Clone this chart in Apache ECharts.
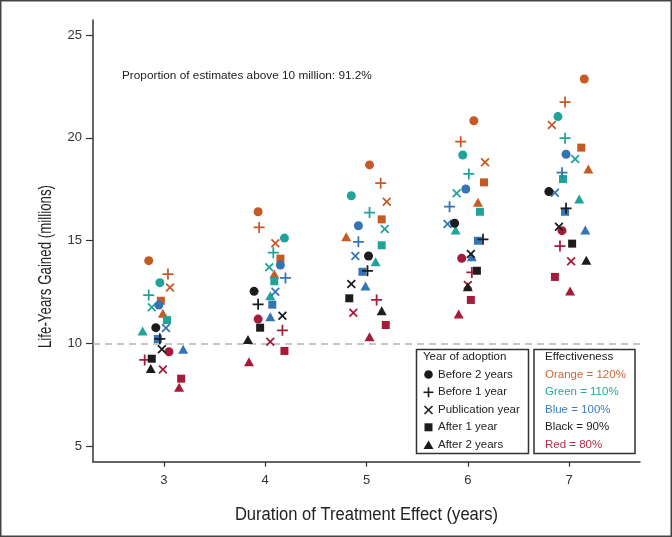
<!DOCTYPE html>
<html>
<head>
<meta charset="utf-8">
<title>Life-Years Gained</title>
<script src="https://cdn.jsdelivr.net/npm/echarts@6/dist/echarts.min.js"></script>
<style>
body{margin:0;background:#fff;}
#main{width:672px;height:537px;}
</style>
</head>
<body>
<div id="main"></div>
<script>
// durations on the x axis (years) and y ticks
var durations = [3, 4, 5, 6, 7];
var yTicks = [5, 10, 15, 20, 25];
var adoption = ['Before 2 years', 'Before 1 year', 'Publication year', 'After 1 year', 'After 2 years'];
var effectLabels = ['Orange = 120%', 'Green = 110%', 'Blue = 100%', 'Black = 90%', 'Red = 80%'];

// rows: adoption year (circle, plus, x, square, triangle); cols: duration 3..7
// X = jittered horizontal position, Y = life-years gained (millions)
var orangeX = [[2.85,3.93,5.03,6.06,7.15],[3.04,3.94,5.14,5.93,6.96],[3.06,4.10,5.20,6.17,6.83],[2.97,4.15,5.15,6.16,7.12],[2.99,4.09,4.80,6.10,7.19]];
var orangeY = [[14.02,16.40,18.68,20.83,22.86],[13.37,15.64,17.79,19.81,21.74],[12.72,14.87,16.89,18.81,20.62],[12.07,14.12,16.03,17.83,19.52],[11.46,13.37,15.19,16.86,18.48]];
var tealX = [[2.96,4.19,4.85,5.95,6.89],[2.85,4.08,5.03,6.01,6.96],[2.88,4.04,5.18,5.89,7.06],[3.03,4.09,5.15,6.12,6.94],[2.79,4.05,5.09,5.88,7.10]];
var tealY = [[12.95,15.12,17.18,19.16,21.03],[12.35,14.41,16.36,18.24,19.98],[11.75,13.70,15.56,17.30,18.97],[11.13,13.02,14.77,16.40,17.99],[10.60,12.32,13.97,15.51,17.02]];
var blueX = [[2.95,4.15,4.92,5.98,6.97],[3.00,4.20,4.92,5.82,6.93],[3.02,4.10,4.89,5.80,6.86],[2.94,4.07,4.96,6.10,6.96],[3.19,4.05,4.99,6.04,7.16]];
var blueY = [[11.86,13.81,15.72,17.51,19.20],[null,13.18,14.94,16.65,18.30],[10.74,12.51,14.25,15.81,17.33],[10.21,11.88,13.48,14.99,16.40],[9.71,11.29,12.79,14.21,15.51]];
var blackX = [[2.92,3.89,5.02,5.87,6.80],[2.96,3.93,5.01,6.15,6.97],[2.98,4.17,4.85,6.03,6.90],[2.88,3.95,4.83,6.09,7.03],[2.87,3.83,5.15,6.00,7.17]];
var blackY = [[10.76,12.53,14.25,15.84,17.38],[10.22,11.90,13.53,15.06,16.57],[9.71,11.34,12.89,14.35,15.67],[9.25,10.76,12.19,13.53,14.85],[8.78,10.19,11.59,12.75,14.04]];
var redX = [[3.05,3.93,5.00,5.94,6.93],[2.81,4.17,5.10,6.04,6.91],[2.99,4.05,4.87,6.00,7.02],[3.17,4.19,5.19,6.03,6.86],[3.15,3.84,5.03,5.91,7.01]];
var redY = [[9.59,11.18,null,14.14,15.48],[9.19,10.63,12.11,13.45,14.73],[8.73,10.08,11.49,12.84,13.99],[8.28,9.63,10.89,12.11,13.23],[7.86,9.10,10.32,11.43,12.55]];

var PLUS = 'path://M4.2,0h1.6v4.2h4.2v1.6h-4.2v4.2h-1.6v-4.2h-4.2v-1.6h4.2z';
var shapes = ['circle', PLUS, PLUS, 'rect', 'triangle'];
var rotations = [0, 0, 45, 0, 0];
var sizes = [9, 11, 11, 8, [10, 9]];

var groups = [
  {x: orangeX, y: orangeY, color: '#c55a24'},
  {x: tealX, y: tealY, color: '#1fa39a'},
  {x: blueX, y: blueY, color: '#3474b5'},
  {x: redX, y: redY, color: '#a61b3a'},
  {x: blackX, y: blackY, color: '#1c1c1c'}
];

var series = [];
groups.forEach(function (g) {
  for (var a = 0; a < 5; a++) {
    var pts = [];
    for (var j = 0; j < durations.length; j++) {
      if (g.y[a][j] != null) pts.push([g.x[a][j], g.y[a][j]]);
    }
    series.push({
      type: 'scatter',
      name: adoption[a],
      data: pts,
      symbol: shapes[a],
      symbolRotate: rotations[a],
      symbolSize: sizes[a],
      clip: false,
      silent: true,
      itemStyle: {color: g.color, opacity: 1},
      z: 3
    });
  }
});

// dashed reference line at 10 million
series[0].markLine = {
  silent: true,
  symbol: 'none',
  label: {show: false},
  lineStyle: {color: '#b4b4b4', type: [7, 5], width: 1.5},
  data: [{yAxis: 10}],
  z: 1
};

var txtFont = '"Liberation Sans", Arial, sans-serif';
var legendColors = ['#c9683a', '#26a89d', '#3b7ec2', '#222222', '#b02d47'];
var rowY = [374.5, 392.3, 410, 427.3, 445];

var graphics = [
  {type: 'rect', shape: {x: 0.75, y: 0.75, width: 670.5, height: 535.5}, style: {fill: 'none', stroke: '#444', lineWidth: 1.5}, silent: true},
  {type: 'text', x: 122, y: 76, style: {text: 'Proportion of estimates above 10 million: 91.2%', fontSize: 11.8, fontFamily: txtFont, fill: '#222', verticalAlign: 'middle'}},
  // axis titles (condensed look via horizontal scaling)
  {type: 'text', x: 46.5, y: 266.5, rotation: Math.PI / 2, scaleX: 0.74, style: {text: 'Life-Years Gained (millions)', fontSize: 18, fontFamily: txtFont, fill: '#222', align: 'center', verticalAlign: 'middle'}},
  {type: 'text', x: 366.5, y: 515, scaleX: 0.92, style: {text: 'Duration of Treatment Effect (years)', fontSize: 18, fontFamily: txtFont, fill: '#222', align: 'center', verticalAlign: 'middle'}},
  {type: 'rect', shape: {x: 416.5, y: 349.5, width: 112, height: 104}, style: {fill: '#fff', stroke: '#333', lineWidth: 1.5}, z: 10},
  {type: 'rect', shape: {x: 534, y: 349.5, width: 101, height: 104}, style: {fill: '#fff', stroke: '#333', lineWidth: 1.5}, z: 10},
  {type: 'text', x: 423, y: 357, style: {text: 'Year of adoption', fontSize: 11.5, fontFamily: txtFont, fill: '#222', verticalAlign: 'middle'}, z: 11},
  {type: 'text', x: 545, y: 357, style: {text: 'Effectiveness', fontSize: 11.5, fontFamily: txtFont, fill: '#222', verticalAlign: 'middle'}, z: 11}
];
var sx = 428.5;
var k = '#1c1c1c';
graphics.push({type: 'circle', shape: {cx: sx, cy: rowY[0], r: 4.3}, style: {fill: k}, z: 11});
graphics.push({type: 'line', shape: {x1: sx - 5, y1: rowY[1], x2: sx + 5, y2: rowY[1]}, style: {stroke: k, lineWidth: 1.6}, z: 11});
graphics.push({type: 'line', shape: {x1: sx, y1: rowY[1] - 5, x2: sx, y2: rowY[1] + 5}, style: {stroke: k, lineWidth: 1.6}, z: 11});
graphics.push({type: 'line', shape: {x1: sx - 4, y1: rowY[2] - 4, x2: sx + 4, y2: rowY[2] + 4}, style: {stroke: k, lineWidth: 1.6}, z: 11});
graphics.push({type: 'line', shape: {x1: sx - 4, y1: rowY[2] + 4, x2: sx + 4, y2: rowY[2] - 4}, style: {stroke: k, lineWidth: 1.6}, z: 11});
graphics.push({type: 'rect', shape: {x: sx - 4, y: rowY[3] - 4, width: 8, height: 8}, style: {fill: k}, z: 11});
graphics.push({type: 'polygon', shape: {points: [[sx - 5, rowY[4] + 4], [sx + 5, rowY[4] + 4], [sx, rowY[4] - 4.5]]}, style: {fill: k}, z: 11});
for (var i = 0; i < 5; i++) {
  graphics.push({type: 'text', x: 438, y: rowY[i], style: {text: adoption[i], fontSize: 11.5, fontFamily: txtFont, fill: '#222', verticalAlign: 'middle'}, z: 11});
  graphics.push({type: 'text', x: 545, y: rowY[i], style: {text: effectLabels[i], fontSize: 11.5, fontFamily: txtFont, fill: legendColors[i], verticalAlign: 'middle'}, z: 11});
}

var chart = echarts.init(document.getElementById('main'), null, {renderer: 'canvas'});
chart.setOption({
  animation: false,
  backgroundColor: '#fff',
  grid: {left: 93, right: 32, top: 20, bottom: 75.3},
  xAxis: {
    type: 'value',
    min: 2.3,
    max: 7.7,
    axisLine: {lineStyle: {color: '#333', width: 1.5}},
    axisTick: {customValues: durations, length: 5, lineStyle: {color: '#333', width: 1.2}},
    axisLabel: {customValues: durations, fontSize: 13, fontFamily: txtFont, color: '#333', margin: 12},
    splitLine: {show: false}
  },
  yAxis: {
    type: 'value',
    min: 4.24,
    max: 25.73,
    axisLine: {show: true, lineStyle: {color: '#333', width: 1.5}},
    axisTick: {show: true, customValues: yTicks, length: 7, lineStyle: {color: '#333', width: 1.2}},
    axisLabel: {customValues: yTicks, fontSize: 13, fontFamily: txtFont, color: '#333', margin: 11},
    splitLine: {show: false}
  },
  graphic: graphics,
  series: series
});
</script>
</body>
</html>
